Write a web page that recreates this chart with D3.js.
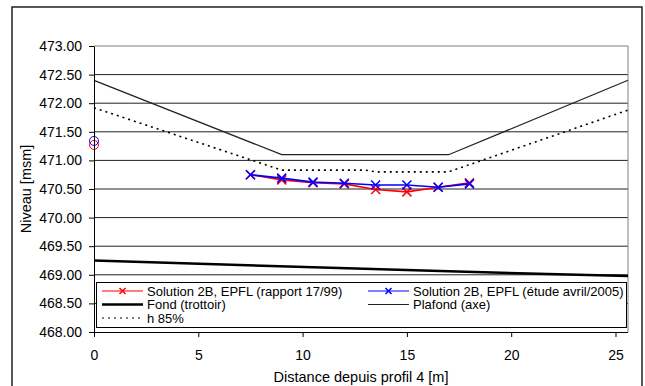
<!DOCTYPE html>
<html>
<head>
<meta charset="utf-8">
<script src="https://cdn.jsdelivr.net/npm/d3@7"></script>
<style>
  body { margin: 0; background: #fff; }
  svg { display: block; font-family: "Liberation Sans", Arial, sans-serif; }
  .grid line { stroke-width: 1; }
  .axis path, .axis line { stroke: #000; }
  .axis text { fill: #000; font-size: 14px; font-family: "Liberation Sans", Arial, sans-serif; }
</style>
</head>
<body>
<div class="module-graph"></div>
<script>
"use strict"

const width = 645,
    height = 386;
const margin = { left: 94, right: 628, top: 46, bottom: 332 };

// data
const xTicks = [0, 5, 10, 15, 20, 25];
const yTicks = [468, 468.5, 469, 469.5, 470, 470.5, 471, 471.5, 472, 472.5, 473];

const xSolution = [7.5, 9, 10.5, 12, 13.5, 15, 16.5, 18];
const yRapport = [470.75, 470.66, 470.61, 470.59, 470.49, 470.45, 470.53, 470.61];
const yEtude = [470.75, 470.69, 470.62, 470.60, 470.57, 470.57, 470.53, 470.59];

const xFond = [0, 17, 25.6];
const yFond = [469.25, 469.06, 468.98];

const xPlafond = [0, 9, 17, 25.6];
const yPlafond = [472.40, 471.10, 471.10, 472.40];

const xH85 = [0, 9, 13, 13.5, 17, 25.6];
const yH85 = [471.92, 470.83, 470.83, 470.80, 470.80, 471.88];

// isolated points at x = 0 (circles)
const xStart = [0];
const yStartRapport = [471.27];
const yStartEtude = [471.34];

const legendLabels = [
    "Solution 2B, EPFL (rapport 17/99)",
    "Solution 2B, EPFL (étude avril/2005)",
    "Fond (trottoir)",
    "Plafond (axe)",
    "h 85%"
];

const svg = d3.select("div.module-graph").append("svg")
    .attr("width", width)
    .attr("height", height);

// outer chart frame (its bottom edge falls outside the picture)
svg.append("rect")
    .attr("x", 12)
    .attr("y", 7)
    .attr("width", 630)
    .attr("height", 386)
    .attr("fill", "#fff")
    .attr("stroke", "#222")
    .attr("stroke-width", 1.5);

const scaleX = d3.scaleLinear()
    .domain([0, 25.6])
    .range([margin.left, margin.right]);

const scaleY = d3.scaleLinear()
    .domain([468, 473])
    .range([margin.bottom, margin.top]);

// gridlines
svg.append("g")
    .attr("class", "grid")
    .selectAll("line")
    .data(yTicks.slice(1))
    .join("line")
    .attr("x1", margin.left)
    .attr("x2", margin.right)
    .attr("y1", d => scaleY(d))
    .attr("y2", d => scaleY(d))
    .attr("stroke", d => d === 473 ? "#808080" : "#222");

// right border of plot area
svg.append("line")
    .attr("x1", margin.right)
    .attr("x2", margin.right)
    .attr("y1", margin.top)
    .attr("y2", margin.bottom)
    .attr("stroke", "#808080");

const makeLine = (xs, ys) => d3.line()
    .x((d, i) => scaleX(xs[i]))
    .y((d, i) => scaleY(ys[i]))(ys);

// Fond (trottoir)
svg.append("path")
    .attr("d", makeLine(xFond, yFond))
    .attr("fill", "none")
    .attr("stroke", "#000")
    .attr("stroke-width", 2.5);

// Plafond (axe)
svg.append("path")
    .attr("d", makeLine(xPlafond, yPlafond))
    .attr("fill", "none")
    .attr("stroke", "#222")
    .attr("stroke-width", 1.2);

// h 85%
svg.append("path")
    .attr("d", makeLine(xH85, yH85))
    .attr("fill", "none")
    .attr("stroke", "#000")
    .attr("stroke-width", 1.6)
    .attr("stroke-dasharray", "2,4");

// legend box
const legend = svg.append("g");
legend.append("rect")
    .attr("x", 96.5)
    .attr("y", 282.5)
    .attr("width", 530)
    .attr("height", 45)
    .attr("fill", "#fff")
    .attr("stroke", "#000");

function xMarker(g, cx, cy, s, color) {
    g.append("path")
        .attr("d", `M${cx - s},${cy - s}L${cx + s},${cy + s}M${cx - s},${cy + s}L${cx + s},${cy - s}`)
        .attr("stroke", color)
        .attr("stroke-width", 1.5)
        .attr("fill", "none");
}

function drawSeries(ys, color) {
    svg.append("path")
        .attr("d", makeLine(xSolution, ys))
        .attr("fill", "none")
        .attr("stroke", color)
        .attr("stroke-width", 1.6);
    const g = svg.append("g");
    ys.forEach((v, i) => xMarker(g, scaleX(xSolution[i]), scaleY(v), 4.5, color));
}

drawSeries(yRapport, "#ff0000");
drawSeries(yEtude, "#0000ff");

svg.append("circle")
    .attr("cx", scaleX(xStart[0]))
    .attr("cy", scaleY(yStartRapport[0]))
    .attr("r", 4.5)
    .attr("fill", "none")
    .attr("stroke", "#ff0000");
svg.append("circle")
    .attr("cx", scaleX(xStart[0]))
    .attr("cy", scaleY(yStartEtude[0]))
    .attr("r", 4.5)
    .attr("fill", "none")
    .attr("stroke", "#0000ff");

// legend entries
const legendItems = [
    { x: 102, y: 291, label: legendLabels[0], color: "#ff0000", w: 1.2, marker: true },
    { x: 368, y: 291, label: legendLabels[1], color: "#0000ff", w: 1.2, marker: true },
    { x: 102, y: 304.5, label: legendLabels[2], color: "#000", w: 2.5 },
    { x: 368, y: 304.5, label: legendLabels[3], color: "#222", w: 1.2 },
    { x: 102, y: 318, label: legendLabels[4], color: "#000", w: 1.2, dash: "2,4" }
];
legendItems.forEach(it => {
    legend.append("line")
        .attr("x1", it.x)
        .attr("x2", it.x + 41)
        .attr("y1", it.y)
        .attr("y2", it.y)
        .attr("stroke", it.color)
        .attr("stroke-width", it.w)
        .attr("stroke-dasharray", it.dash || null);
    if (it.marker) xMarker(legend, it.x + 20.5, it.y, 3, it.color);
    legend.append("text")
        .attr("x", it.x + 45)
        .attr("y", it.y)
        .attr("dy", "0.36em")
        .attr("font-size", 13)
        .text(it.label);
});

// axes
svg.append("g")
    .attr("class", "axis")
    .attr("transform", "translate(0," + margin.bottom + ")")
    .call(d3.axisBottom(scaleX).tickValues(xTicks).tickSize(5).tickPadding(13).tickSizeOuter(0))
    .call(g => g.select(".domain").attr("d", `M${margin.left},0.5H${margin.right}`));

svg.append("g")
    .attr("class", "axis")
    .attr("transform", "translate(" + margin.left + ",0)")
    .call(d3.axisLeft(scaleY).tickValues(yTicks).tickSize(5).tickPadding(7).tickSizeOuter(0)
        .tickFormat(d3.format(".2f")));

// axis titles
svg.append("text")
    .attr("x", (margin.left + margin.right) / 2)
    .attr("y", 382)
    .attr("text-anchor", "middle")
    .attr("font-size", 14.5)
    .text("Distance depuis profil 4 [m]");

svg.append("text")
    .attr("transform", "translate(31," + (margin.top + margin.bottom) / 2 + ") rotate(-90)")
    .attr("text-anchor", "middle")
    .attr("font-size", 14.5)
    .text("Niveau [msm]");
</script>
</body>
</html>
